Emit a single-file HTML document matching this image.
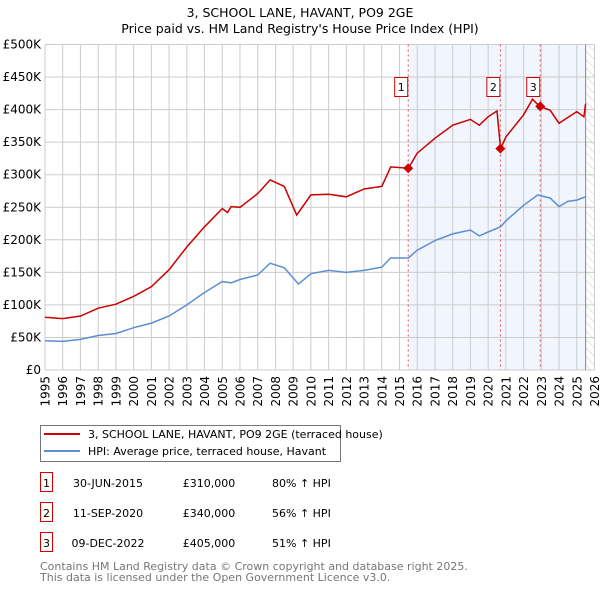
<!DOCTYPE html>
<html><head><meta charset="utf-8"><style>
body{margin:0;background:#fff;font-family:"Liberation Sans","DejaVu Sans",sans-serif;}
svg text{font-family:"DejaVu Sans","Liberation Sans",sans-serif;}
</style></head><body>
<svg id="chart" width="600" height="590" xmlns="http://www.w3.org/2000/svg">
<defs><pattern id="hatch" width="6" height="6" patternUnits="userSpaceOnUse" patternTransform="rotate(-45)"><line x1="0" y1="0" x2="0" y2="6" stroke="#ccc" stroke-width="1"/></pattern></defs>
<text x="300" y="17" text-anchor="middle" font-size="12.5">3, SCHOOL LANE, HAVANT, PO9 2GE</text>
<text x="300" y="33" text-anchor="middle" font-size="12.5">Price paid vs. HM Land Registry's House Price Index (HPI)</text>
<g id="grid"></g><g id="marks"></g>
<g>
<rect x="40.5" y="425.5" width="300" height="36" fill="#fff" stroke="#777"/>
<line x1="44" y1="434" x2="80" y2="434" stroke="#cc0000" stroke-width="2"/>
<text x="88" y="438" font-size="11">3, SCHOOL LANE, HAVANT, PO9 2GE (terraced house)</text>
<line x1="44" y1="451" x2="80" y2="451" stroke="#5b8fd4" stroke-width="2"/>
<text x="88" y="455" font-size="11">HPI: Average price, terraced house, Havant</text>
</g>
<g id="table"></g>
<text x="40" y="570" font-size="11" fill="#777">Contains HM Land Registry data © Crown copyright and database right 2025.</text>
<text x="40" y="581" font-size="11" fill="#777">This data is licensed under the Open Government Licence v3.0.</text>
</svg>
<script>
const hpiYears=[1995,1996,1997,1998,1999,2000,2001,2002,2003,2004,2005,2005.5,2006,2007,2007.7,2008.5,2009.3,2010,2011,2012,2013,2014,2014.5,2015.5,2016,2017,2018,2019,2019.5,2020,2020.7,2021,2022,2022.8,2023.5,2024,2024.5,2025,2025.5];
const hpiValues=[45,44,47,53,56,65,72,83,100,119,136,134,139,146,164,157,132,148,153,150,153,158,172,172,184,199,209,215,206,212,220,229,253,269,264,251,259,261,266];
const priceYears=[1995,1996,1997,1998,1999,2000,2001,2002,2003,2004,2005,2005.3,2005.5,2006,2007,2007.7,2008.5,2009.2,2010,2011,2012,2013,2014,2014.5,2015.5,2016,2017,2018,2019,2019.5,2020,2020.5,2020.7,2021,2022,2022.5,2022.9,2023.5,2024,2024.5,2025,2025.4,2025.5];
const priceValues=[81,79,83,95,101,113,128,154,189,220,248,242,251,250,271,292,282,238,269,270,266,278,282,312,310,333,356,376,385,376,389,398,340,358,392,416,405,399,379,388,397,389,409];
const saleLabels=["1","2","3"];
const saleYears=[2015.49,2020.69,2022.94];
const saleValues=[310,340,405];
const saleDates=["30-JUN-2015","11-SEP-2020","09-DEC-2022"];
const salePrices=["£310,000","£340,000","£405,000"];
const salePct=["80% ↑ HPI","56% ↑ HPI","51% ↑ HPI"];
const yTicks=[0,50,100,150,200,250,300,350,400,450,500];
const yTickLabels=["£0","£50K","£100K","£150K","£200K","£250K","£300K","£350K","£400K","£450K","£500K"];
const xTicks=[1995,1996,1997,1998,1999,2000,2001,2002,2003,2004,2005,2006,2007,2008,2009,2010,2011,2012,2013,2014,2015,2016,2017,2018,2019,2020,2021,2022,2023,2024,2025,2026];
const dataEnd=2025.5;

const NS="http://www.w3.org/2000/svg";
const L=45,R=594.5,T=44.5,B=370;
const xs=y=>L+(y-1995)/(2026-1995)*(R-L);
const ys=v=>B-v/500*(B-T);
function mk(tag,attrs,parent){const e=document.createElementNS(NS,tag);for(const k in attrs)e.setAttribute(k,attrs[k]);parent.appendChild(e);return e;}
const grid=document.getElementById('grid'),marks=document.getElementById('marks');
// shading
let sh=mk('rect',{x:xs(saleYears[0]),y:T,width:xs(dataEnd)-xs(saleYears[0]),height:B-T,fill:'#eef3fc',opacity:0.8},grid);


let hh=mk('rect',{x:xs(dataEnd),y:T,width:R-xs(dataEnd),height:B-T,fill:'url(#hatch)'},grid);


yTicks.forEach((t,i)=>{
 mk('line',{x1:L,x2:R,y1:ys(t),y2:ys(t),stroke:'#ccc','stroke-width':1},grid);
 const tx=mk('text',{x:L-4,y:ys(t)+4,'text-anchor':'end','font-size':12},grid);tx.textContent=yTickLabels[i];
 
 
});
xTicks.forEach(t=>{
 mk('line',{x1:xs(t),x2:xs(t),y1:T,y2:B,stroke:'#ccc','stroke-width':1},grid);
 const tx=mk('text',{x:0,y:0,'text-anchor':'end','font-size':12,transform:`translate(${xs(t)+4.5},376) rotate(-90)`},grid);tx.textContent=t;
 
 
});
mk('line',{x1:xs(dataEnd),x2:xs(dataEnd),y1:T,y2:B,stroke:'#888','stroke-width':1},grid);
saleYears.forEach((y,i)=>{
 const ln=mk('line',{x1:xs(y),x2:xs(y),y1:T,y2:B,stroke:'#e05050','stroke-width':1,'stroke-dasharray':'2,3'},grid);
 
 
});
function path(xv,yv){return xv.map((x,i)=>(i?'L':'M')+xs(x).toFixed(1)+','+ys(yv[i]).toFixed(1)).join('');}
let hp=mk('path',{d:path(hpiYears,hpiValues),fill:'none',stroke:'#5b8fd4','stroke-width':1.5},marks);


let pp=mk('path',{d:path(priceYears,priceValues),fill:'none',stroke:'#cc0000','stroke-width':1.5},marks);


saleYears.forEach((y,i)=>{
 const cx=xs(y),cy=ys(saleValues[i]);
 const d=mk('path',{d:`M${cx},${cy-5}L${cx+5},${cy}L${cx},${cy+5}L${cx-5},${cy}Z`,fill:'#cc0000'},marks);
 
 
 const g=mk('g',{},marks);
 
 
 mk('rect',{x:cx-13.5,y:77.5,width:13,height:19,fill:'#fff',stroke:'#cc0000'},g);
 const t=mk('text',{x:cx-7,y:91,'text-anchor':'middle','font-size':11},g);t.textContent=saleLabels[i];
});
const tb=document.getElementById('table');
saleLabels.forEach((s,i)=>{
 const y=483+i*30;
 const g=mk('g',{},tb);
 
 
 mk('rect',{x:40.5,y:y-10.5,width:12,height:19,fill:'#fff',stroke:'#cc0000'},g);
 let t=mk('text',{x:46.5,y:y+4,'text-anchor':'middle','font-size':11},g);t.textContent=s;
 t=mk('text',{x:108,y:y+4,'text-anchor':'middle','font-size':11},g);t.textContent=saleDates[i];
 t=mk('text',{x:209,y:y+4,'text-anchor':'middle','font-size':11},g);t.textContent=salePrices[i];
 t=mk('text',{x:272,y:y+4,'font-size':11},g);t.textContent=salePct[i];
});
</script>
</body></html>
